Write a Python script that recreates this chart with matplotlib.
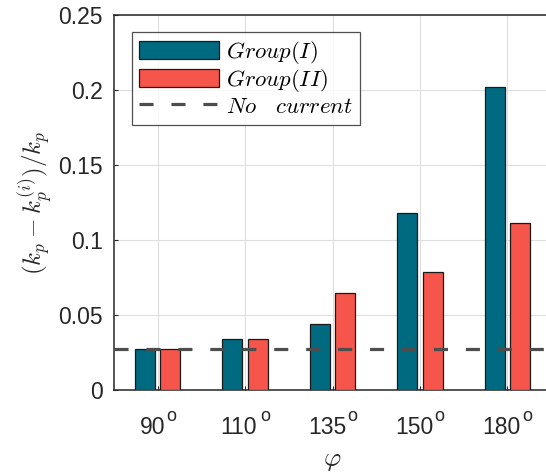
import matplotlib
matplotlib.use("Agg")
import matplotlib.pyplot as plt
from matplotlib.lines import Line2D
import matplotlib.transforms as mtransforms
import numpy as np

categories = ["90", "110", "135", "150", "180"]
group1 = [0.0271, 0.0342, 0.0438, 0.1182, 0.2022]
group2 = [0.0271, 0.0342, 0.0647, 0.0785, 0.1111]
no_current = 0.0273
yticks = [0, 0.05, 0.1, 0.15, 0.2, 0.25]
ytick_labels = ["0", "0.05", "0.1", "0.15", "0.2", "0.25"]
deg_gaps = [1, 4, 1, 1, 1]  # px gap between number and degree mark

plt.rcParams['font.family'] = ['Liberation Sans', 'DejaVu Sans']
plt.rcParams['mathtext.fontset'] = 'cm'

fig = plt.figure(figsize=(5.46, 4.76), dpi=100)
ax = fig.add_axes([114/546, 86/476, 437/546, 375/476])

x = np.arange(1, len(categories) + 1)
w = 0.23
off = 0.145
c1 = '#006a80'
c2 = '#f5554a'
dash = (4.4, 5.6)
b1 = ax.bar(x - off, group1, w, color=c1, edgecolor='#1a1a1a', linewidth=0.9, zorder=3,
            label='$Group(I)$')
b2 = ax.bar(x + off, group2, w, color=c2, edgecolor='#1a1a1a', linewidth=0.9, zorder=3,
            label='$Group(II)$')
ax.axhline(no_current, color='#4d4d4d', linewidth=2.3, dashes=dash, zorder=4)
ln = Line2D([], [], color='#4d4d4d', linewidth=2.3, dashes=dash, label=r'$No\quad current$')

ax.set_xlim(0.5, 5.5)
ax.set_ylim(0, 0.25)
ax.set_xticks(x)
ax.set_xticklabels([])
ax.set_yticks(yticks)
ax.set_yticklabels(ytick_labels)
ax.tick_params(direction='in', length=3, width=0.8, labelsize=16.5, colors='#262626', pad=8)
ax.grid(True, color='#dedede', linewidth=0.8, zorder=0)
ax.set_axisbelow(True)
for s in ax.spines.values():
    s.set_color('#262626')
    s.set_linewidth(1.1)

ax.set_ylabel(r'$(k_p - k_p^{(i)})/k_p$', fontsize=18, color='#262626', labelpad=2)
ax.set_xlabel(r'$\varphi$', fontsize=19, color='#262626')
ax.xaxis.set_label_coords(0.5, -0.158)

leg = ax.legend(handles=[b1, b2, ln], loc='upper left', bbox_to_anchor=(0.0405, 0.954),
                fontsize=16.5, frameon=True, fancybox=False, edgecolor='#262626',
                handlelength=3.5, handleheight=0.85, borderpad=0.3, labelspacing=0.04,
                handletextpad=0.3, borderaxespad=0)
leg.get_frame().set_linewidth(0.9)

# x tick labels: number plus raised small 'o', centred together under each tick
trans = ax.get_xaxis_transform()
fig.canvas.draw()
renderer = fig.canvas.get_renderer()
for xi, cat, gap in zip(x, categories, deg_gaps):
    t_num = ax.text(xi, 0, cat, transform=trans, fontsize=16.5, color='#262626',
                    ha='left', va='top')
    t_deg = ax.text(xi, 0, 'o', transform=trans, fontsize=13, color='#262626',
                    ha='left', va='top')
    wn = t_num.get_window_extent(renderer).width
    wd = t_deg.get_window_extent(renderer).width
    total = wn + gap + wd
    t_num.set_transform(mtransforms.offset_copy(trans, fig=fig, x=-total / 2,
                                                y=-26, units='dots'))
    t_deg.set_transform(mtransforms.offset_copy(trans, fig=fig, x=-total / 2 + wn + gap,
                                                y=-18, units='dots'))

fig.savefig('out.png', dpi=100)
